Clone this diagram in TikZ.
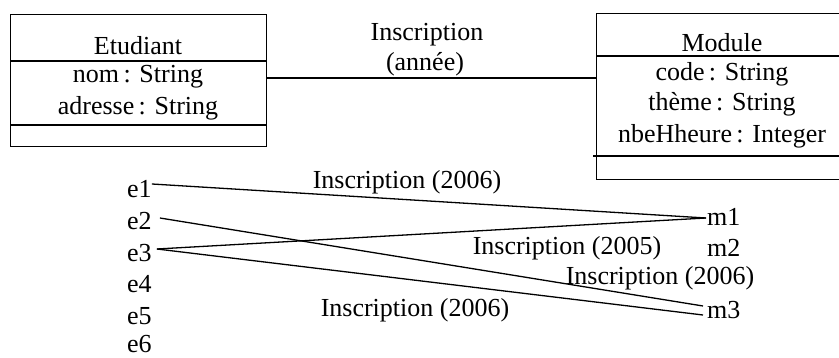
\documentclass[tikz,border=0pt]{standalone}
\usepackage{fontspec}
\setmainfont{Liberation Serif}
\begin{document}
\begin{tikzpicture}[x=1pt,y=-1pt,
  every node/.style={font=\fontsize{26}{31}\selectfont, inner sep=0pt},
  classbox/.style={draw, line width=1.3pt, anchor=north west, minimum width=#1},
  sep/.style={line width=1.3pt},
  link/.style={line width=1.3pt},
  txt/.style={anchor=center},
  obj/.style={anchor=west}]
\useasboundingbox (0,0) rectangle (839,358);
\begin{scope}
\clip (0,0) rectangle (839,358);

% class Etudiant
\node[classbox=256, minimum height=132] (etu) at (10,14) {};
\draw[sep] (10,61) -- (266,61);
\draw[sep] (10,125) -- (266,125);
\node[txt] (etuname) at (138,46) {Etudiant};
\node[txt] (etua1) at (138,77) {nom\,: String};
\node[txt] (etua2) at (138,108) {adresse\,: String};

% class Module
\node[classbox=252, minimum height=166] (mod) at (596,13) {};
\draw[sep] (596,56) -- (848,56);
\draw[sep] (593,156) -- (848,156);
\node[txt] (modname) at (722,43) {Module};
\node[txt] (moda1) at (722,74) {code\,: String};
\node[txt] (moda2) at (722,104) {thème\,: String};
\node[txt] (moda3) at (722,136) {nbeHheure\,: Integer};

% association and its label
\coordinate (ya) at (0,78);
\draw[link] (etu.east |- ya) -- (mod.west |- ya);
\node[txt] (assoc1) at (427,35) {Inscription};
\node[txt] (assoc2) at (425,64) {(année)};

% objects
\node[obj] (e1) at (127,189) {e1};
\node[obj] (e2) at (127,221) {e2};
\node[obj] (e3) at (127,253) {e3};
\node[obj] (e4) at (127,284) {e4};
\node[obj] (e5) at (127,316) {e5};
\node[obj] (e6) at (127,344) {e6};
\node[obj] (m1) at (707,217) {m1};
\node[obj] (m2) at (707,248) {m2};
\node[obj] (m3) at (707,310) {m3};

% links between objects
\draw[link] ([shift={(0,-5)}]e1.east) -- ([shift={(-1,1)}]m1.west);
\draw[link] ([shift={(8,-3)}]e2.east) -- ([shift={(-4,-4)}]m3.west);
\draw[link] ([shift={(5,-4)}]e3.east) -- ([shift={(-1,1)}]m1.west);
\draw[link] ([shift={(5,-4)}]e3.east) -- ([shift={(-4,5)}]m3.west);

% link labels
\node[txt] (l1) at (407,182) {Inscription (2006)};
\node[txt] (l2) at (567,248) {Inscription (2005)};
\node[txt] (l3) at (660,278) {Inscription (2006)};
\node[txt] (l4) at (415,310) {Inscription (2006)};
\end{scope}
\end{tikzpicture}
\end{document}
